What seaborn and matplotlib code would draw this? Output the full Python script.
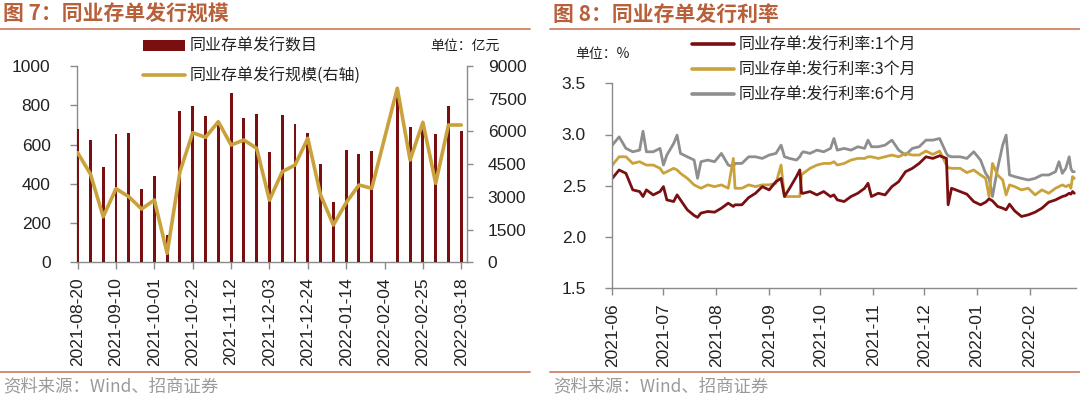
import numpy as np
import pandas as pd
import matplotlib
matplotlib.use("Agg")
import matplotlib.pyplot as plt
import matplotlib.dates as mdates
from matplotlib.patches import Patch
from matplotlib.lines import Line2D
import seaborn as sns

# --------------------------------------------------------------------------- #
# Data: figure 7 (weekly NCD issuance)
# --------------------------------------------------------------------------- #
week_dates = [
    "2021-08-20", "2021-08-27", "2021-09-03", "2021-09-10", "2021-09-17",
    "2021-09-24", "2021-10-01", "2021-10-08", "2021-10-15", "2021-10-22",
    "2021-10-29", "2021-11-05", "2021-11-12", "2021-11-19", "2021-11-26",
    "2021-12-03", "2021-12-10", "2021-12-17", "2021-12-24", "2021-12-31",
    "2022-01-07", "2022-01-14", "2022-01-21", "2022-01-28", "2022-02-04",
    "2022-02-11", "2022-02-18", "2022-02-25", "2022-03-04", "2022-03-11",
    "2022-03-18",
]
issue_count = [679, 623, 487, 652, 659, 375, 441, 139, 769, 796,
               744, 720, 864, 735, 755, 563, 752, 705, 660, 501,
               307, 572, 550, 569, np.nan, 880, 691, 710, 655, 796,
               669]
issue_scale = [5025, 4049, 2091, 3375, 3008, 2444, 2856, 413, 4154, 5942,
               5731, 6447, 5378, 5607, 5226, 2850, 4154, 4461, 5685, 3086,
               1710, 2733, 3544, 3393, np.nan, 7978, 4690, 6419, 3622, 6295,
               6295]

# --------------------------------------------------------------------------- #
# Data: figure 8 (NCD issuance rates, %)
# --------------------------------------------------------------------------- #
rate_dates = [
    "2021-06-01", "2021-06-05", "2021-06-09", "2021-06-13", "2021-06-17",
    "2021-06-19", "2021-06-21", "2021-06-25", "2021-06-29", "2021-07-01",
    "2021-07-03", "2021-07-07", "2021-07-09", "2021-07-11", "2021-07-15",
    "2021-07-19", "2021-07-21", "2021-07-23", "2021-07-27", "2021-07-31",
    "2021-08-04", "2021-08-08", "2021-08-11", "2021-08-12", "2021-08-16",
    "2021-08-20", "2021-08-24", "2021-08-28", "2021-09-01", "2021-09-05",
    "2021-09-08", "2021-09-10", "2021-09-13", "2021-09-17", "2021-09-19",
    "2021-09-20", "2021-09-21", "2021-09-25", "2021-09-29", "2021-10-03",
    "2021-10-07", "2021-10-09", "2021-10-11", "2021-10-15", "2021-10-19",
    "2021-10-23", "2021-10-27", "2021-10-29", "2021-10-31", "2021-11-04",
    "2021-11-08", "2021-11-12", "2021-11-16", "2021-11-20", "2021-11-24",
    "2021-11-28", "2021-12-02", "2021-12-06", "2021-12-10", "2021-12-14",
    "2021-12-15", "2021-12-17", "2021-12-22", "2021-12-26", "2021-12-30",
    "2022-01-03", "2022-01-06", "2022-01-08", "2022-01-10", "2022-01-13",
    "2022-01-16", "2022-01-18", "2022-01-20", "2022-01-23", "2022-01-27",
    "2022-01-31", "2022-02-04", "2022-02-08", "2022-02-12", "2022-02-16",
    "2022-02-18", "2022-02-20", "2022-02-22", "2022-02-24", "2022-02-25",
    "2022-02-26", "2022-02-27",
]
rate_1m = [2.571, 2.653, 2.620, 2.458, 2.442, 2.393, 2.458, 2.409, 2.442, 2.490,
           2.360, 2.344, 2.409, 2.360, 2.263, 2.208, 2.189, 2.231, 2.247, 2.240,
           2.279, 2.328, 2.296, 2.312, 2.312, 2.383, 2.425, 2.490, 2.458, 2.539,
           2.571, 2.393, 2.474, 2.588, 2.653, 2.425, 2.425, 2.442, 2.409, 2.442,
           2.393, 2.409, 2.360, 2.344, 2.393, 2.425, 2.474, 2.523, 2.393, 2.425,
           2.409, 2.490, 2.539, 2.636, 2.669, 2.717, 2.782, 2.766, 2.792, 2.766,
           2.312, 2.474, 2.442, 2.416, 2.344, 2.312, 2.338, 2.370, 2.351, 2.296,
           2.279, 2.263, 2.318, 2.253, 2.198, 2.214, 2.240, 2.279, 2.338, 2.360,
           2.377, 2.393, 2.403, 2.425, 2.416, 2.442, 2.425]
rate_3m = [2.701, 2.782, 2.782, 2.717, 2.734, 2.717, 2.701, 2.701, 2.669, 2.620,
           2.636, 2.669, 2.653, 2.620, 2.571, 2.507, 2.490, 2.474, 2.507, 2.490,
           2.507, 2.474, 2.766, 2.474, 2.474, 2.507, 2.490, 2.507, 2.507, 2.523,
           2.701, 2.393, 2.393, 2.393, 2.393, 2.604, 2.620, 2.669, 2.701, 2.717,
           2.717, 2.734, 2.701, 2.717, 2.750, 2.766, 2.766, 2.782, 2.782, 2.766,
           2.782, 2.799, 2.782, 2.815, 2.799, 2.799, 2.838, 2.805, 2.838, 2.701,
           2.675, 2.669, 2.669, 2.627, 2.653, 2.604, 2.571, 2.393, 2.717, 2.604,
           2.555, 2.409, 2.507, 2.490, 2.458, 2.474, 2.409, 2.458, 2.425, 2.474,
           2.490, 2.507, 2.490, 2.507, 2.474, 2.588, 2.571]
rate_6m = [2.896, 2.977, 2.864, 2.831, 2.847, 3.032, 2.831, 2.831, 2.864, 2.701,
           2.799, 2.912, 2.994, 2.815, 2.782, 2.750, 2.571, 2.734, 2.750, 2.734,
           2.815, 2.701, 2.685, 2.717, 2.717, 2.782, 2.782, 2.766, 2.799, 2.815,
           2.896, 2.782, 2.766, 2.750, 2.782, 2.815, 2.831, 2.815, 2.847, 2.831,
           2.864, 2.961, 2.847, 2.864, 2.847, 2.880, 2.864, 2.945, 2.880, 2.880,
           2.896, 2.945, 2.847, 2.799, 2.864, 2.880, 2.945, 2.945, 2.961, 2.815,
           2.792, 2.782, 2.782, 2.766, 2.831, 2.750, 2.620, 2.571, 2.393, 2.669,
           2.896, 2.994, 2.604, 2.588, 2.571, 2.555, 2.571, 2.604, 2.604, 2.636,
           2.734, 2.620, 2.669, 2.782, 2.669, 2.636, 2.636]
rate_labels = ["同业存单:发行利率:1个月", "同业存单:发行利率:3个月", "同业存单:发行利率:6个月"]

# --------------------------------------------------------------------------- #
# Style
# --------------------------------------------------------------------------- #
MAROON = "#7A0F12"
GOLD = "#C9A23C"
GRAY = "#8E8E8E"
TITLE_C = "#B8603A"
RULE_C = "#CF8266"
SPINE_C = "#8A8A8A"
TEXT_C = "#222222"
CJK = ["Noto Sans CJK SC", "DejaVu Sans"]

sns.set_style("ticks")
plt.rcParams["font.family"] = ["Liberation Sans", "Noto Sans CJK SC", "DejaVu Sans"]
plt.rcParams["axes.unicode_minus"] = False

W, H = 1080, 398
fig = plt.figure(figsize=(W / 100, H / 100), dpi=100)


def fx(px):
    return px / W


def fy(py):
    return 1 - py / H


def style_axis(ax, sides):
    for s in ["top", "right", "left", "bottom"]:
        ax.spines[s].set_visible(s in sides)
        ax.spines[s].set_color(SPINE_C)
        ax.spines[s].set_linewidth(1.0)


# --- panel headers / footers ----------------------------------------------- #
for x0, x1, title in [(0, 530, "图 7：同业存单发行规模"), (550, 1080, "图 8：同业存单发行利率")]:
    fig.text(fx(x0 + 3), fy(14), title, fontsize=15, color=TITLE_C,
             fontweight="bold", va="center", ha="left", family=CJK)
    fig.add_artist(Line2D([fx(x0), fx(x1)], [fy(28.5), fy(28.5)], color=RULE_C, lw=1.3))
    fig.add_artist(Line2D([fx(x0), fx(x1)], [fy(372), fy(372)], color=RULE_C, lw=1.3))
    fig.text(fx(x0 + 3), fy(386), "资料来源：Wind、招商证券", fontsize=12.5,
             color="#9A9A9A", va="center", ha="left", family=CJK)

# --------------------------------------------------------------------------- #
# Left: issuance count (bars) and scale (line, right axis)
# --------------------------------------------------------------------------- #
ax1 = fig.add_axes([fx(77), fy(262.3), fx(467 - 77), fy(66) - fy(262.3)])
df_w = pd.DataFrame({"date": week_dates, "count": issue_count, "scale": issue_scale})
df_w["pos"] = np.arange(len(df_w))

sns.barplot(data=df_w, x="date", y="count", order=week_dates, color=MAROON,
            width=0.23, saturation=1, errorbar=None, linewidth=0, ax=ax1)
for bar in ax1.patches:
    bar.set_zorder(3)  # first bar sits on the left spine, keep it visible
ax1.set_xlim(-0.05, 30.45)
ax1.set_ylim(0, 1000)
ax1.set_yticks(np.arange(0, 1001, 200))
ax1.set_xticks(range(0, len(week_dates), 3))
ax1.set_xticklabels(week_dates[::3], rotation=90)
ax1.set_xlabel("")
ax1.set_ylabel("")
style_axis(ax1, ["left", "bottom"])
ax1.tick_params(axis="y", direction="out", length=5, width=1, color=SPINE_C,
                pad=14, labelsize=12.5, labelcolor=TEXT_C)
ax1.tick_params(axis="x", direction="out", length=5, width=1, color=SPINE_C,
                pad=6, labelsize=12.5, labelcolor=TEXT_C)

ax1r = ax1.twinx()
line_df = df_w.dropna(subset=["scale"])
sns.lineplot(data=line_df, x="pos", y="scale", color=GOLD, lw=2.6, ax=ax1r)
ax1r.set_ylim(0, 9000)
ax1r.set_yticks(np.arange(0, 9001, 1500))
ax1r.set_xlim(-0.05, 30.45)
ax1r.set_ylabel("")
ax1r.set_xlabel("")
style_axis(ax1r, ["right"])
ax1r.tick_params(axis="y", direction="out", length=4, width=1, color=SPINE_C,
                 pad=11, labelsize=12.5, labelcolor=TEXT_C)

handles = [Patch(facecolor=MAROON, edgecolor="none"),
           Line2D([], [], color=GOLD, lw=2.6)]
fig.legend(handles, ["同业存单发行数目", "同业存单发行规模(右轴)"],
           loc="upper left", bbox_to_anchor=(fx(143), fy(38)), frameon=False,
           handlelength=2.6, handleheight=0.65, handletextpad=0.35,
           labelspacing=0.8, borderaxespad=0, borderpad=0, labelcolor=TEXT_C,
           prop={"family": CJK, "size": 11.5})
fig.text(fx(500), fy(46), "单位：亿元", fontsize=10, ha="right", va="center",
         color=TEXT_C, family=CJK)

# --------------------------------------------------------------------------- #
# Right: issuance rates
# --------------------------------------------------------------------------- #
ax2 = fig.add_axes([fx(612.3), fy(287.8), fx(1076 - 612.3), fy(83.4) - fy(287.8)])
df_r = pd.DataFrame({
    "date": pd.to_datetime(rate_dates * 3),
    "rate": rate_1m + rate_3m + rate_6m,
    "series": np.repeat(rate_labels, len(rate_dates)),
})
palette = dict(zip(rate_labels, [MAROON, GOLD, GRAY]))
sns.lineplot(data=df_r, x="date", y="rate", hue="series", hue_order=rate_labels[::-1],
             palette=palette, lw=2.0, ax=ax2, legend=False)
ax2.set_xlim(pd.Timestamp("2021-06-01"), pd.Timestamp("2022-02-28"))
ax2.set_ylim(1.5, 3.5)
ax2.set_yticks(np.arange(1.5, 3.51, 0.5))
ax2.yaxis.set_major_formatter(matplotlib.ticker.FormatStrFormatter("%.1f"))
ax2.xaxis.set_major_locator(mdates.MonthLocator())
ax2.xaxis.set_major_formatter(mdates.DateFormatter("%Y-%m"))
plt.setp(ax2.get_xticklabels(), rotation=90)
ax2.set_xlabel("")
ax2.set_ylabel("")
style_axis(ax2, ["left", "bottom"])
ax2.tick_params(axis="y", direction="out", length=5, width=1, color=SPINE_C,
                pad=14, labelsize=12.5, labelcolor=TEXT_C)
ax2.tick_params(axis="x", direction="out", length=5, width=1, color=SPINE_C,
                pad=6, labelsize=12.5, labelcolor=TEXT_C)

rate_handles = [Line2D([], [], color=c, lw=2.6) for c in [MAROON, GOLD, GRAY]]
fig.legend(rate_handles, rate_labels, loc="upper left",
           bbox_to_anchor=(fx(692), fy(37)), frameon=False,
           handlelength=2.6, handletextpad=0.3, labelspacing=0.48,
           borderaxespad=0, borderpad=0, labelcolor=TEXT_C,
           prop={"family": CJK, "size": 11.5})
fig.text(fx(575), fy(54), "单位：%", fontsize=10, ha="left", va="center",
         color=TEXT_C, family=CJK)

fig.savefig("out.png", dpi=100, facecolor="white")
